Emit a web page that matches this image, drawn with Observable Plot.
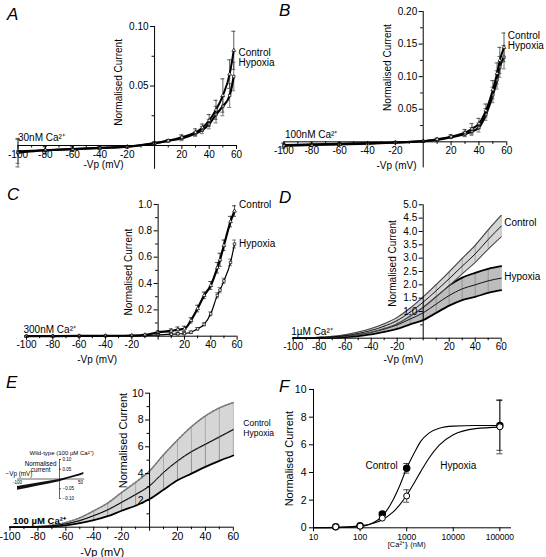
<!DOCTYPE html>
<html><head><meta charset="utf-8">
<script src="https://cdn.jsdelivr.net/npm/d3@7"></script>
<script src="https://cdn.jsdelivr.net/npm/@observablehq/plot@0.6"></script>
<style>
html,body{margin:0;padding:0;background:#fff;}
#fig{position:relative;width:546px;height:557px;overflow:hidden;background:#fff;font-family:"Liberation Sans",Arial,sans-serif;}
.letter{position:absolute;font-style:italic;font-size:17px;line-height:17px;font-family:"Liberation Sans",Arial,sans-serif;}
</style></head><body><div id="fig"></div>
<script>
// ---------- shared axis values ----------
const xTickLabels = [-100, -80, -60, -40, -20, 20, 40, 60];
const xMinorTicks = [-90, -70, -50, -30, -10, 10, 30, 50];

// ---------- Panel A: 30 nM Ca2+ ----------
const aVoltage    = [-100, -80, -60, -40, -20, 0, 10, 20, 30, 35, 40, 45, 50, 55, 58];
const aControl    = [-0.006, -0.004, -0.003, -0.002, -0.001, 0.002, 0.004, 0.007, 0.011, 0.015, 0.021, 0.030, 0.042, 0.060, 0.080];
const aControlErr = [0.012, 0.003, 0.002, 0.001, 0.001, 0.001, 0.001, 0.002, 0.003, 0.003, 0.005, 0.008, 0.014, 0.012, 0.016];
const aHypoxia    = [-0.005, -0.004, -0.003, -0.002, -0.001, 0.002, 0.004, 0.006, 0.010, 0.013, 0.018, 0.026, 0.033, 0.042, 0.058];
const aHypoxiaErr = [0.010, 0.003, 0.002, 0.001, 0.001, 0.001, 0.001, 0.002, 0.002, 0.003, 0.004, 0.007, 0.008, 0.010, 0.012];
const aYTicks = [0.05, 0.10];
const aYMinor = [0.025, 0.075];

// ---------- Panel B: 100 nM Ca2+ ----------
const bVoltage    = [-100, -80, -60, -40, -20, 0, 10, 20, 30, 35, 40, 45, 50, 53, 55, 58];
const bControl    = [-0.006, -0.005, -0.004, -0.003, -0.001, 0.001, 0.004, 0.008, 0.014, 0.020, 0.028, 0.048, 0.080, 0.105, 0.125, 0.145];
const bControlErr = [0.004, 0.002, 0.002, 0.001, 0.001, 0.001, 0.002, 0.003, 0.005, 0.008, 0.008, 0.010, 0.014, 0.016, 0.020, 0.022];
const bHypoxia    = [-0.005, -0.004, -0.003, -0.002, -0.001, 0.001, 0.003, 0.007, 0.012, 0.016, 0.022, 0.042, 0.072, 0.095, 0.115, 0.130];
const bHypoxiaErr = [0.003, 0.002, 0.002, 0.001, 0.001, 0.001, 0.001, 0.002, 0.004, 0.006, 0.007, 0.009, 0.012, 0.014, 0.016, 0.018];
const bYTicks = [0.05, 0.10, 0.15, 0.20];
const bYMinor = [0.025, 0.075, 0.125, 0.175];

// ---------- Panel C: 300 nM Ca2+ ----------
const cVoltage    = [-100, -80, -60, -40, -20, -10, 0, 10, 15, 20, 25, 30, 35, 40, 45, 47, 50, 55, 58];
const cControl    = [0, 0.001, 0.002, 0.003, 0.005, 0.010, 0.030, 0.040, 0.050, 0.056, 0.120, 0.210, 0.310, 0.385, 0.520, 0.580, 0.690, 0.870, 0.950];
const cControlErr = [0.005, 0.003, 0.003, 0.003, 0.004, 0.005, 0.010, 0.015, 0.020, 0.020, 0.020, 0.025, 0.025, 0.030, 0.040, 0.050, 0.040, 0.040, 0.040];
const cHypoxia    = [0, 0.001, 0.002, 0.003, 0.004, 0.006, 0.010, 0.015, 0.018, 0.020, 0.030, 0.056, 0.090, 0.170, 0.310, 0.350, 0.420, 0.560, 0.700];
const cHypoxiaErr = [0.003, 0.002, 0.002, 0.002, 0.003, 0.003, 0.005, 0.006, 0.007, 0.008, 0.010, 0.010, 0.012, 0.015, 0.020, 0.020, 0.020, 0.025, 0.030];
const cYTicks = [0.2, 0.4, 0.6, 0.8, 1.0];
const cYMinor = [0.1, 0.3, 0.5, 0.7, 0.9];

// ---------- Panel D: 1 µM Ca2+ ----------
const dVoltage    = [-100, -90, -80, -70, -60, -50, -40, -30, -20, -10, 0, 10, 20, 30, 40, 50, 60];
const dControl    = [0, 0.01, 0.02, 0.05, 0.10, 0.18, 0.29, 0.45, 0.66, 0.98, 1.35, 1.78, 2.23, 2.70, 3.16, 3.70, 4.20];
const dControlErr = [0, 0.005, 0.01, 0.02, 0.03, 0.05, 0.07, 0.09, 0.12, 0.15, 0.20, 0.23, 0.26, 0.29, 0.32, 0.36, 0.40];
const dHypoxia    = [0, 0.005, 0.015, 0.03, 0.07, 0.13, 0.22, 0.34, 0.50, 0.72, 0.95, 1.28, 1.60, 1.85, 2.00, 2.15, 2.25];
const dHypoxiaErr = [0, 0.005, 0.01, 0.02, 0.03, 0.05, 0.08, 0.10, 0.15, 0.20, 0.27, 0.33, 0.38, 0.42, 0.45, 0.45, 0.45];
const dYTicks = [1.0, 1.5, 2.0, 2.5, 3.0, 3.5, 4.0, 4.5, 5.0];
const dYMinor = [0.5];

// ---------- Panel E: 100 µM Ca2+ ----------
const eVoltage    = [-100, -90, -80, -70, -60, -50, -40, -30, -20, -10, 0, 10, 20, 30, 40, 50, 60];
const eControl    = [0, 0.01, 0.04, 0.10, 0.25, 0.50, 0.87, 1.30, 1.87, 2.45, 3.10, 4.10, 4.95, 5.65, 6.20, 6.75, 7.30];
const eControlErr = [0, 0.01, 0.02, 0.05, 0.10, 0.20, 0.35, 0.50, 0.72, 0.90, 1.10, 1.30, 1.55, 1.85, 2.10, 2.15, 2.00];
const eHypoxia    = [0, 0.01, 0.04, 0.10, 0.24, 0.48, 0.85, 1.27, 1.83, 2.40, 3.05, 4.05, 4.90, 5.60, 6.15, 6.70, 7.25];
const eHypoxiaErr = [0, 0.01, 0.02, 0.05, 0.10, 0.18, 0.33, 0.45, 0.60, 0.80, 0.95, 1.25, 1.40, 1.60, 1.65, 1.75, 1.90];
const eYTicks = [2, 4, 6, 8, 10];
const eYMinor = [1, 3, 5, 7, 9];

// ---------- Panel E inset: wild-type, 100 µM Ca2+ ----------
const insetVoltage = [-100, -75, -50, -25, 0, 25, 50, 58];
const insetCurrent = [-0.048, -0.038, -0.028, -0.018, -0.008, 0.007, 0.022, 0.028];
const insetErr     = [0.010, 0.009, 0.008, 0.007, 0.006, 0.005, 0.005, 0.005];
const insetYTicks  = [-0.10, -0.05, 0.05, 0.10];

// ---------- Panel F: concentration-response ----------
const fConc        = [30, 100, 300, 1000, 100000];
const fControl     = [0.08, 0.15, 1.00, 4.30, 7.40];
const fControlErr  = [0.02, 0.03, 0.10, 0.35, 1.80];
const fHypoxia     = [0.07, 0.12, 0.70, 2.30, 7.30];
const fHypoxiaErr  = [0.02, 0.03, 0.08, 0.45, 1.95];
const fFitConc     = [10, 30, 100, 200, 300, 500, 700, 1000, 1500, 2000, 3000, 5000, 10000, 30000, 100000];
const fControlFit  = [0.00, 0.01, 0.10, 0.40, 0.85, 1.95, 3.00, 4.30, 5.50, 6.25, 6.85, 7.20, 7.35, 7.40, 7.40];
const fHypoxiaFit  = [0.01, 0.03, 0.14, 0.35, 0.59, 1.11, 1.64, 2.35, 3.33, 4.06, 5.03, 5.98, 6.73, 7.17, 7.28];
const fXTicks = [10, 100, 1000, 10000, 100000];
const fYTicks = [0, 2, 4, 6, 8, 10];

// ---------- helpers ----------
const FONT = "'Liberation Sans', Arial, Helvetica, sans-serif";
const fig = document.getElementById("fig");

function rows(V, Y, E, dir) {
  return V.map((v, i) => ({
    v, y: Y[i],
    lo: dir === "up" ? Y[i] : Y[i] - E[i],
    hi: dir === "down" ? Y[i] : Y[i] + E[i]
  }));
}

function ivAxes(c) {
  const fs = c.fs || 10;
  return [
    Plot.ruleY([0], {x1: -100, x2: 60, stroke: "#000", strokeWidth: 1}),
    Plot.ruleX([0], {y1: c.yAxisMin, y2: c.yDomain[1], stroke: "#000", strokeWidth: 1}),
    Plot.ruleX(xTickLabels, {x: d => d, y1: 0, y2: 0, insetBottom: -4, stroke: "#000"}),
    Plot.ruleX(xMinorTicks, {x: d => d, y1: 0, y2: 0, insetBottom: -2.5, stroke: "#000"}),
    Plot.ruleY(c.yTicks, {y: d => d, x1: 0, x2: 0, insetLeft: -4, stroke: "#000"}),
    Plot.ruleY(c.yMinor, {y: d => d, x1: 0, x2: 0, insetLeft: -2.5, stroke: "#000"}),
    Plot.text(c.yTicks, {x: 0, y: d => d, text: c.yFormat, textAnchor: "end", dx: -6, fontSize: fs}),
    Plot.text(xTickLabels, {x: d => d, y: 0, text: d => String(d), dy: 9, fontSize: fs}),
    Plot.text(["Normalised Current"], {x: 0, y: c.yTitleY, text: d => d, rotate: -90, dx: c.yTitleDx, fontSize: c.titleFs || fs}),
    Plot.text(["-Vp (mV)"], {x: c.xTitleX, y: 0, text: d => d, dy: c.xTitleDy, fontSize: c.titleFs || fs}),
    Plot.text([c.caLabel], {x: -100, y: 0, text: d => d, textAnchor: "start", dx: c.caDx || 0, dy: c.caDy, fontSize: c.caFs || fs, fontWeight: c.caWeight || "normal"}),
    Plot.text(["Control"], {x: 60, y: c.controlY, text: d => d, textAnchor: "start", dx: c.labelDx, fontSize: c.labelFs || fs}),
    Plot.text(["Hypoxia"], {x: 60, y: c.hypoxiaY, text: d => d, textAnchor: "start", dx: c.labelDx, fontSize: c.labelFs || fs})
  ];
}

function errorSeries(data, symbol, lineW, barColor) {
  return [
    Plot.ruleX(data, {x: "v", y1: "lo", y2: "hi", stroke: barColor, strokeWidth: 0.8}),
    Plot.ruleY(data, {y: "hi", x1: "v", x2: "v", insetLeft: -2, insetRight: -2, stroke: barColor, strokeWidth: 0.8}),
    Plot.ruleY(data, {y: "lo", x1: "v", x2: "v", insetLeft: -2, insetRight: -2, stroke: barColor, strokeWidth: 0.8}),
    Plot.line(data, {x: "v", y: "y", stroke: "#000", strokeWidth: lineW, curve: "monotone-x"}),
    Plot.dot(data, {x: "v", y: "y", symbol, r: 1.4, stroke: "#000", fill: "#fff", strokeWidth: 0.7})
  ];
}

function bandSeries(data, fill, edge, edgeW, ruleColor) {
  return [
    Plot.areaY(data, {x: "v", y1: "lo", y2: "hi", fill, curve: "monotone-x"}),
    Plot.ruleX(data, {x: "v", y1: "lo", y2: "hi", stroke: ruleColor, strokeWidth: 0.6}),
    Plot.line(data, {x: "v", y: "hi", stroke: edge, strokeWidth: edgeW, curve: "monotone-x"}),
    Plot.line(data, {x: "v", y: "lo", stroke: edge, strokeWidth: edgeW, curve: "monotone-x"}),
    Plot.line(data, {x: "v", y: "y", stroke: "#000", strokeWidth: 0.9, curve: "monotone-x"})
  ];
}

function ivPlot(c, dataMarks) {
  return Plot.plot({
    width: c.w, height: c.h,
    marginLeft: c.ml, marginRight: c.mr, marginTop: c.mt, marginBottom: c.mb,
    x: {domain: [-100, 60], axis: null},
    y: {domain: c.yDomain, axis: null},
    style: {background: "transparent", fontFamily: FONT, fontSize: "10px", color: "#000", overflow: "visible"},
    marks: [...dataMarks, ...ivAxes(c)]
  });
}

function place(el, left, top) {
  el.style.position = "absolute";
  el.style.left = left + "px";
  el.style.top = top + "px";
  el.style.overflow = "visible";
  fig.appendChild(el);
}
function letter(t, left, top) {
  const d = document.createElement("div");
  d.className = "letter";
  d.textContent = t;
  d.style.left = left + "px";
  d.style.top = top + "px";
  fig.appendChild(d);
}

// ---------- Panel A ----------
place(ivPlot({
  w: 273, h: 185, ml: 17.5, mr: 37, mt: 26, mb: 16.2,
  yDomain: [-0.02, 0.10], yAxisMin: -0.02, yTicks: aYTicks, yMinor: aYMinor, yFormat: d3.format(".2f"),
  yTitleY: 0.053, yTitleDx: -36, xTitleX: -37.4, xTitleDy: 19,
  caLabel: "30nM Ca²⁺", caDy: -8, controlY: 0.078, hypoxiaY: 0.0697, labelDx: 2
}, [
  ...errorSeries(rows(aVoltage, aHypoxia, aHypoxiaErr), "square", 2.2, "#555"),
  ...errorSeries(rows(aVoltage, aControl, aControlErr), "triangle", 2.0, "#333")
]), 0, 0);

// ---------- Panel B ----------
place(ivPlot({
  w: 273, h: 185, ml: 10.4, mr: 39.7, mt: 11, mb: 17.6,
  yDomain: [-0.04, 0.20], yAxisMin: -0.04, yTicks: bYTicks, yMinor: bYMinor, yFormat: d3.format(".2f"),
  yTitleY: 0.114, yTitleDx: -35.7, xTitleX: -19.2, xTitleDy: 24,
  caLabel: "100nM Ca²⁺", caDx: 1, caDy: -7, controlY: 0.163, hypoxiaY: 0.147, labelDx: 1
}, [
  ...errorSeries(rows(bVoltage, bHypoxia, bHypoxiaErr), "square", 2.2, "#555"),
  ...errorSeries(rows(bVoltage, bControl, bControlErr), "triangle", 2.0, "#333")
]), 273, 0);

// ---------- Panel C ----------
place(ivPlot({
  w: 273, h: 185, ml: 26, mr: 36.4, mt: 19, mb: 34.3,
  yDomain: [0, 1], yAxisMin: -0.03, yTicks: cYTicks, yMinor: cYMinor, yFormat: d3.format(".1f"),
  yTitleY: 0.487, yTitleDx: -29.7, xTitleX: -46.3, xTitleDy: 24,
  caLabel: "300nM Ca²⁺", caDx: -3, caDy: -6, controlY: 0.994, hypoxiaY: 0.70, labelDx: 2
}, [
  ...errorSeries(rows(cVoltage, cHypoxia, cHypoxiaErr), "square", 1.2, "#666"),
  ...errorSeries(rows(cVoltage, cControl, cControlErr), "triangle", 2.2, "#222")
]), 0, 185);

// ---------- Panel D ----------
place(ivPlot({
  w: 273, h: 185, ml: 19.7, mr: 45.3, mt: 19.3, mb: 32.3,
  yDomain: [0, 5], yAxisMin: -0.1, yTicks: dYTicks, yMinor: dYMinor, yFormat: d3.format(".1f"),
  yTitleY: 2.8, yTitleDx: -30.7, xTitleX: -15.2, xTitleDy: 22,
  caLabel: "1µM Ca²⁺", caDx: -2, caDy: -6, controlY: 4.31, hypoxiaY: 2.32, labelDx: 3
}, [
  ...bandSeries(rows(dVoltage, dHypoxia, dHypoxiaErr), "#bdbdbd", "#000", 1.8, "#7a7a7a"),
  ...bandSeries(rows(dVoltage, dControl, dControlErr), "#d6d6d6", "#444", 1.1, "#8a8a8a")
]), 273, 185);

// ---------- Panel E ----------
const eUp = rows(eVoltage, eControl, eControlErr, "up");
const eDown = rows(eVoltage, eHypoxia, eHypoxiaErr, "down");
place(ivPlot({
  w: 273, h: 187, ml: 9.5, mr: 40.2, mt: 22.7, mb: 30.3, fs: 10.5, titleFs: 11,
  yDomain: [0, 10], yAxisMin: -0.3, yTicks: eYTicks, yMinor: eYMinor, yFormat: d3.format("d"),
  yTitleY: 6.47, yTitleDx: -26.5, xTitleX: -33.9, xTitleDy: 25,
  caLabel: "100 µM Ca²⁺", caDx: 3, caDy: -6, caFs: 9.5, caWeight: "bold",
  controlY: 7.72, hypoxiaY: 7.0, labelDx: 10, labelFs: 8.5
}, [
  Plot.areaY(eVoltage.map((v, i) => ({v, lo: eDown[i].lo, hi: eUp[i].hi})), {x: "v", y1: "lo", y2: "hi", fill: "#d6d6d6", curve: "monotone-x"}),
  Plot.ruleX(eUp, {x: "v", y1: "lo", y2: "hi", stroke: "#999", strokeWidth: 0.7}),
  Plot.ruleX(eDown, {x: "v", y1: "lo", y2: "hi", stroke: "#777", strokeWidth: 0.7}),
  Plot.line(eUp, {x: "v", y: "hi", stroke: "#777", strokeWidth: 1.6, strokeDasharray: "2,1.5", curve: "monotone-x"}),
  Plot.line(eDown, {x: "v", y: "lo", stroke: "#000", strokeWidth: 1.8, curve: "monotone-x"}),
  Plot.line(eDown, {x: "v", y: "y", stroke: "#555", strokeWidth: 0.8, curve: "monotone-x"}),
  Plot.line(eUp, {x: "v", y: "y", stroke: "#000", strokeWidth: 1.0, curve: "monotone-x"})
]), 0, 370);

// ---------- Panel E inset ----------
const insetRows = rows(insetVoltage, insetCurrent, insetErr);
place(Plot.plot({
  width: 110, height: 60, marginLeft: 17, marginRight: 25.8, marginTop: 14, marginBottom: 7,
  x: {domain: [-100, 60], axis: null},
  y: {domain: [-0.1, 0.1], axis: null},
  style: {background: "transparent", fontFamily: FONT, fontSize: "5px", color: "#000", overflow: "visible"},
  marks: [
    Plot.areaY(insetRows, {x: "v", y1: "lo", y2: "hi", fill: "#111"}),
    Plot.ruleY([0], {x1: -100, x2: 60, stroke: "#000", strokeWidth: 0.6}),
    Plot.ruleX([0], {y1: -0.1, y2: 0.1, stroke: "#000", strokeWidth: 0.6}),
    Plot.ruleY(insetYTicks, {y: d => d, x1: 0, x2: 0, insetRight: -2, stroke: "#000", strokeWidth: 0.6}),
    Plot.text(insetYTicks, {x: 0, y: d => d, text: d3.format(".2f"), textAnchor: "start", dx: 3, fontSize: 4.5}),
    Plot.text([-100, 50], {x: d => d, y: 0, text: d => String(d), dy: 3.5, fontSize: 4.5}),
    Plot.text(["Wild-type (100 µM Ca²⁺)"], {x: 5, y: 0.1, text: d => d, dy: -6, fontSize: 6}),
    Plot.text(["Normalised"], {x: -45, y: 0.1, text: d => d, dy: 4, fontSize: 6.3}),
    Plot.text(["current"], {x: -45, y: 0.1, text: d => d, dy: 10.5, fontSize: 6.3}),
    Plot.text(["−Vp (mV)"], {x: -100, y: 0, text: d => d, textAnchor: "start", dx: -12, dy: -5, fontSize: 6.3})
  ]
}), 0, 445);

// ---------- Panel F ----------
const fCtrlRows = rows(fConc, fControl, fControlErr);
const fHypRows = rows(fConc, fHypoxia, fHypoxiaErr);
const fFitCtrl = fFitConc.map((v, i) => ({v, y: fControlFit[i]}));
const fFitHyp = fFitConc.map((v, i) => ({v, y: fHypoxiaFit[i]}));
place(Plot.plot({
  width: 273, height: 187, marginLeft: 40, marginRight: 35, marginTop: 19, marginBottom: 29.7,
  x: {type: "log", domain: [10, 177828], axis: null},
  y: {domain: [0, 10], axis: null},
  style: {background: "transparent", fontFamily: FONT, fontSize: "10px", color: "#000", overflow: "visible"},
  marks: [
    Plot.ruleY([0], {x1: 10, x2: 177828, stroke: "#000"}),
    Plot.ruleX([10], {y1: 0, y2: 10, stroke: "#000"}),
    Plot.ruleX(fXTicks, {x: d => d, y1: 0, y2: 0, insetBottom: -4, stroke: "#000"}),
    Plot.ruleY(fYTicks, {y: d => d, x1: 10, x2: 10, insetLeft: -4, stroke: "#000"}),
    Plot.text(fYTicks, {x: 10, y: d => d, text: d => String(d), textAnchor: "end", dx: -7, fontSize: 10.5}),
    Plot.text(fXTicks, {x: d => d, y: 0, text: d => String(d), dy: 9, fontSize: 8.5}),
    Plot.text(["Normalised Current"], {x: 10, y: 5, text: d => d, rotate: -90, dx: -24, fontSize: 11}),
    Plot.text(["[Ca²⁺]ᵢ (nM)"], {x: 1000, y: 0, text: d => d, dy: 17, fontSize: 7.5}),
    Plot.line(fFitCtrl, {x: "v", y: "y", stroke: "#000", strokeWidth: 1.1, curve: "monotone-x"}),
    Plot.line(fFitHyp, {x: "v", y: "y", stroke: "#000", strokeWidth: 1.1, curve: "monotone-x"}),
    Plot.ruleX(fCtrlRows, {x: "v", y1: "lo", y2: "hi", stroke: "#000", strokeWidth: 0.7}),
    Plot.ruleY(fCtrlRows, {y: "hi", x1: "v", x2: "v", insetLeft: -3, insetRight: -3, stroke: "#000", strokeWidth: 0.7}),
    Plot.ruleY(fCtrlRows, {y: "lo", x1: "v", x2: "v", insetLeft: -3, insetRight: -3, stroke: "#000", strokeWidth: 0.7}),
    Plot.ruleX(fHypRows, {x: "v", y1: "lo", y2: "hi", stroke: "#000", strokeWidth: 0.7}),
    Plot.ruleY(fHypRows, {y: "hi", x1: "v", x2: "v", insetLeft: -3, insetRight: -3, stroke: "#000", strokeWidth: 0.7}),
    Plot.ruleY(fHypRows, {y: "lo", x1: "v", x2: "v", insetLeft: -3, insetRight: -3, stroke: "#000", strokeWidth: 0.7}),
    Plot.dot(fCtrlRows, {x: "v", y: "y", r: 3, fill: "#000", stroke: "#000"}),
    Plot.dot(fHypRows, {x: "v", y: "y", r: 3, fill: "#fff", stroke: "#000", strokeWidth: 1}),
    Plot.text(["Control"], {x: 1000, y: 4.5, text: d => d, textAnchor: "end", dx: -9, fontSize: 10}),
    Plot.text(["Hypoxia"], {x: 5000, y: 4.5, text: d => d, textAnchor: "start", dx: 1, fontSize: 10})
  ]
}), 273, 370);

// ---------- panel letters ----------
letter("A", 7, 6);
letter("B", 279, 2);
letter("C", 7, 186);
letter("D", 279, 189);
letter("E", 6, 374);
letter("F", 279, 378);
</script></body></html>
